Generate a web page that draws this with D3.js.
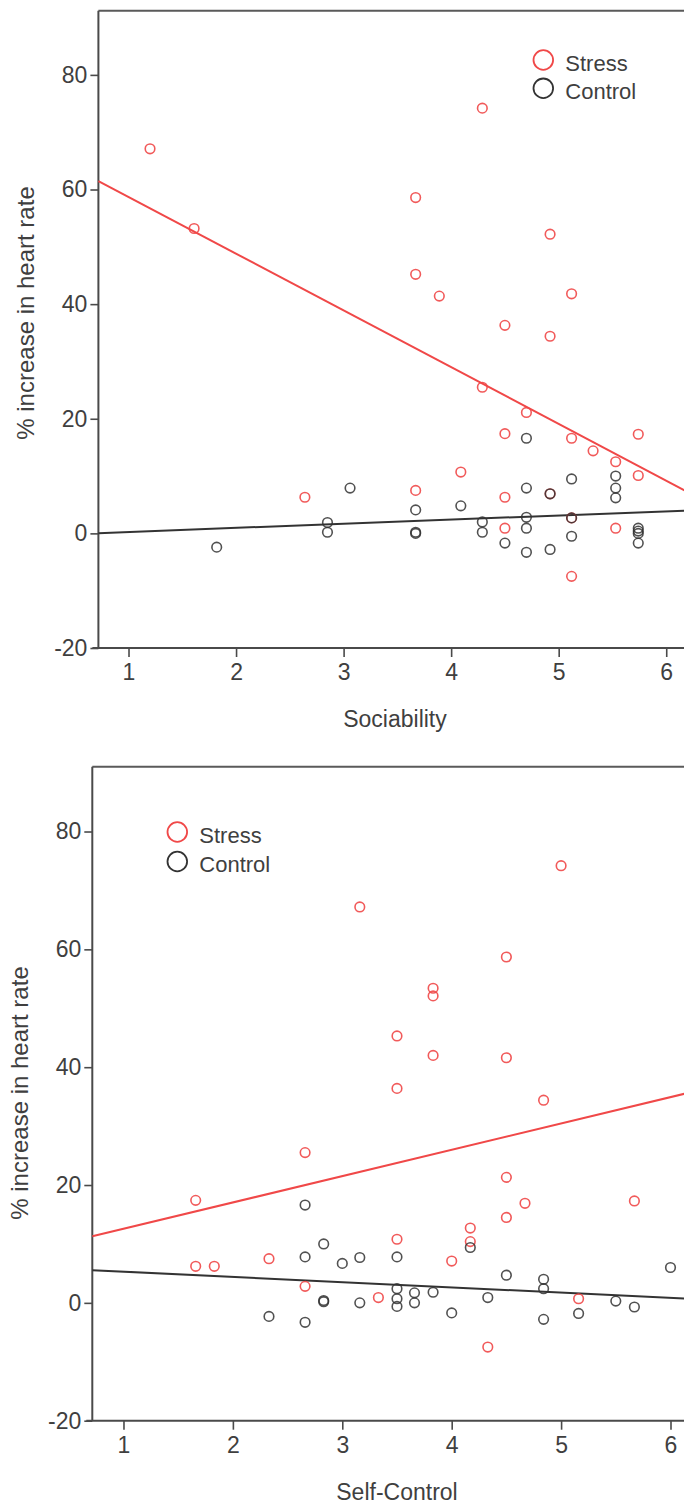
<!DOCTYPE html>
<html><head><meta charset="utf-8">
<script src="https://cdn.jsdelivr.net/npm/d3@7"></script>
<style>
html,body{margin:0;padding:0;background:#fff;}
svg{display:block;}
text{font-family:"Liberation Sans",Arial,sans-serif;fill:#3f3f3f;}
</style></head>
<body>
<script>
// ---------- DATA ----------
const xTicks = [1, 2, 3, 4, 5, 6];
const yTicks = [-20, 0, 20, 40, 60, 80];
const seriesNames = ["Stress", "Control"];
const yLabel = "% increase in heart rate";
const xLabels = ["Sociability", "Self-Control"];

// Chart 1: Sociability
const socStress = [
  [1.20,67.1],[1.61,53.2],[2.64,6.3],[3.67,58.6],[3.67,45.2],[3.67,7.5],[3.89,41.4],
  [4.09,10.7],[4.29,74.2],[4.29,25.5],[4.50,36.3],[4.50,17.4],[4.50,6.3],[4.50,0.9],
  [4.70,21.1],[4.92,52.2],[4.92,34.4],[4.92,6.9],[5.12,41.8],[5.12,16.6],[5.12,2.7],
  [5.12,-7.5],[5.32,14.4],[5.53,12.5],[5.53,0.9],[5.74,17.3],[5.74,10.1]
];
const socControl = [
  [1.82,-2.4],[2.85,1.9],[2.85,0.2],[3.06,7.9],[3.67,4.1],[3.67,0.0],[3.67,0.2],
  [4.09,4.8],[4.29,2.0],[4.29,0.2],[4.50,-1.7],[4.70,16.6],[4.70,7.9],[4.70,2.8],
  [4.70,0.9],[4.70,-3.3],[4.92,6.9],[4.92,-2.8],[5.12,9.5],[5.12,2.7],[5.12,-0.5],
  [5.53,10.0],[5.53,7.9],[5.53,6.2],[5.74,0.9],[5.74,0.4],[5.74,0.0],[5.74,-1.7]
];
const socStressFit = [68.6, -9.9];   // intercept, slope
const socControlFit = [-0.48, 0.72];

// Chart 2: Self-Control
const scStress = [
  [1.66,17.4],[1.66,6.2],[1.83,6.2],[2.33,7.5],[2.66,25.5],[2.66,2.8],[3.16,67.2],
  [3.33,0.9],[3.50,45.3],[3.50,36.4],[3.50,10.8],[3.83,53.4],[3.83,52.1],[3.83,42.0],
  [4.00,7.1],[4.17,12.7],[4.17,10.4],[4.33,-7.5],[4.50,58.7],[4.50,41.6],[4.50,21.3],
  [4.50,14.5],[4.67,16.9],[4.84,34.4],[5.00,74.2],[5.16,0.7],[5.67,17.3]
];
const scControl = [
  [2.33,-2.3],[2.66,16.6],[2.66,7.8],[2.66,-3.3],[2.83,10.0],[2.83,0.4],[2.83,0.2],
  [3.00,6.7],[3.16,7.7],[3.16,0.0],[3.50,7.8],[3.50,2.4],[3.50,0.7],[3.50,-0.6],
  [3.66,1.7],[3.66,0.0],[3.83,1.8],[4.00,-1.7],[4.17,9.4],[4.33,0.9],[4.50,4.7],
  [4.84,4.0],[4.84,2.4],[4.84,-2.8],[5.16,-1.8],[5.50,0.3],[5.67,-0.7],[6.00,6.0]
];
const scStressFit = [8.1, 4.47];
const scControlFit = [6.19, -0.89];

// ---------- DRAW ----------
const W = 684, H = 1506;
const RED = "#f04848", BLACK = "#333333", AXIS = "#4a4a4a";
const svg = d3.select("body").append("svg").attr("width", W).attr("height", H);

function chart(cfg) {
  const x = d3.scaleLinear().domain(cfg.xDomain).range(cfg.xRange);
  const y = d3.scaleLinear().domain([-20, cfg.yMax]).range(cfg.yRange);
  const g = svg.append("g");

  // frame top
  g.append("line").attr("x1", cfg.xRange[0]).attr("x2", cfg.xRange[1])
    .attr("y1", cfg.yRange[1]).attr("y2", cfg.yRange[1])
    .attr("stroke", "#5a5a5a").attr("stroke-width", 2);

  const fmt = d => String(d);
  const yAx = g.append("g").attr("transform", `translate(${cfg.xRange[0]},0)`)
    .call(d3.axisLeft(y).tickValues(yTicks).tickSize(8).tickPadding(3).tickFormat(fmt));
  const xAx = g.append("g").attr("transform", `translate(0,${cfg.yRange[0]})`)
    .call(d3.axisBottom(x).tickValues(xTicks).tickSize(9).tickPadding(7).tickFormat(fmt));
  [yAx, xAx].forEach(a => {
    a.select(".domain").attr("stroke", AXIS).attr("stroke-width", 2);
    a.selectAll(".tick line").attr("stroke", AXIS).attr("stroke-width", 1.6);
    a.selectAll(".tick text").style("font-size", "23px").attr("fill", "#4a4a4a")
      .style("font-family", '"Liberation Sans",Arial,sans-serif');
  });
  yAx.select(".domain").attr("d", `M0,${cfg.yRange[0]}V${cfg.yRange[1]}`);
  xAx.select(".domain").attr("d", `M${cfg.xRange[0] - 6},0H${cfg.xRange[1]}`);

  // axis titles
  g.append("text").attr("x", cfg.xTitleX).attr("y", cfg.yRange[0] + 71)
    .attr("text-anchor", "middle").attr("dominant-baseline", "central")
    .style("font-size", "23px").text(cfg.xLabel);
  g.append("text")
    .attr("transform", `translate(${cfg.yTitleX},${cfg.yTitleY}) rotate(-90)`)
    .attr("text-anchor", "middle").attr("dominant-baseline", "central")
    .style("font-size", "24px").text(yLabel);

  // fit lines
  [[cfg.stressFit, RED], [cfg.controlFit, BLACK]].forEach(([f, c]) => {
    const xs = cfg.xDomain;
    g.append("line")
      .attr("x1", x(xs[0])).attr("y1", y(f[0] + f[1] * xs[0]))
      .attr("x2", x(xs[1])).attr("y2", y(f[0] + f[1] * xs[1]))
      .attr("stroke", c).attr("stroke-width", 2);
  });

  // points
  [[cfg.stress, RED], [cfg.control, BLACK]].forEach(([pts, c]) => {
    g.append("g").selectAll("circle").data(pts).join("circle")
      .attr("cx", d => x(d[0])).attr("cy", d => y(d[1])).attr("r", 4.8)
      .attr("fill", "none").attr("stroke", c).attr("stroke-width", 1.6)
      .attr("stroke-opacity", c === RED ? 0.9 : 0.85);
  });

  // legend
  const lg = g.append("g");
  seriesNames.forEach((name, i) => {
    const cy = cfg.legY + i * cfg.legGap;
    lg.append("circle").attr("cx", cfg.legX).attr("cy", cy).attr("r", 9.8)
      .attr("fill", "none").attr("stroke", i === 0 ? RED : BLACK).attr("stroke-width", 1.8);
    lg.append("text").attr("x", cfg.legX + 22).attr("y", cy + 3)
      .attr("dominant-baseline", "central").style("font-size", "22px").text(name);
  });
}

chart({
  xDomain: [0.72, 6.5], xRange: [98.4, 720],
  yMax: 91.2, yRange: [648, 10.7],
  stress: socStress, control: socControl,
  stressFit: socStressFit, controlFit: socControlFit,
  xLabel: xLabels[0], xTitleX: 395, yTitleX: 25, yTitleY: 313,
  legX: 543.3, legY: 60, legGap: 28.3
});
chart({
  xDomain: [0.715, 6.5], xRange: [92.3, 725.2],
  yMax: 91.0, yRange: [1420.7, 766.7],
  stress: scStress, control: scControl,
  stressFit: scStressFit, controlFit: scControlFit,
  xLabel: xLabels[1], xTitleX: 397, yTitleX: 19, yTitleY: 1093,
  legX: 177.3, legY: 832, legGap: 29.5
});
</script>
</body></html>
